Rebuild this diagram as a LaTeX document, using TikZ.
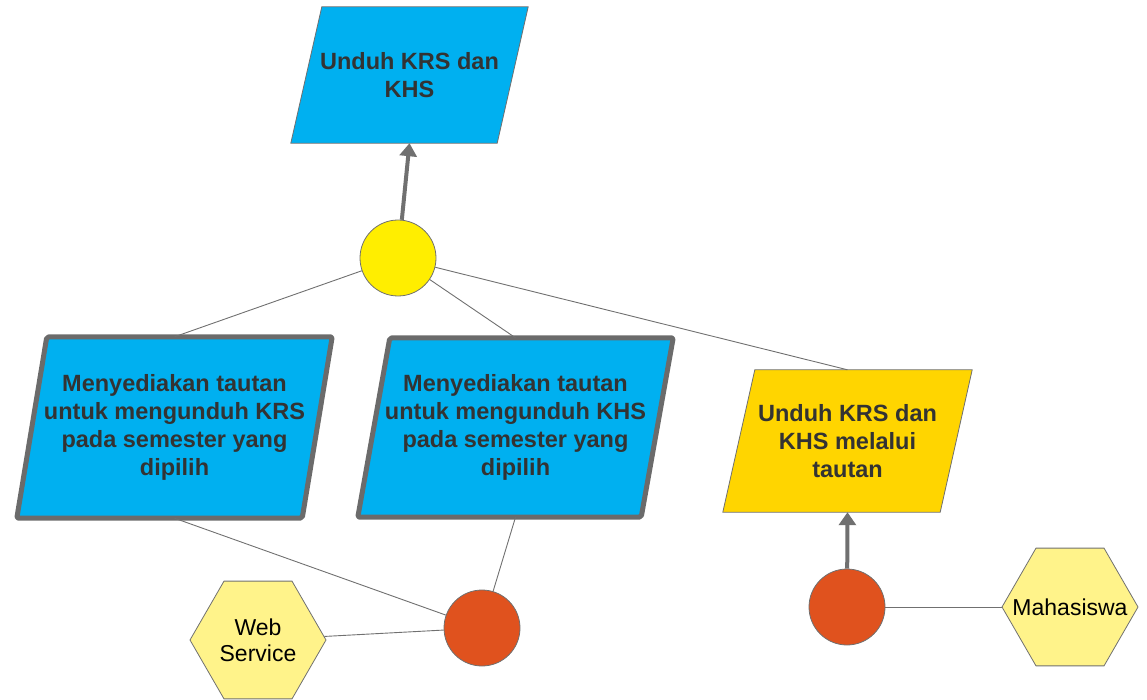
\documentclass[tikz,border=0pt]{standalone}
\usepackage{fontspec}
\setmainfont{Liberation Sans}
\usetikzlibrary{shapes.geometric,arrows.meta,backgrounds,calc}

\definecolor{boxblue}{HTML}{00B0F0}
\definecolor{boxgold}{HTML}{FFD500}
\definecolor{hexyellow}{HTML}{FFF38A}
\definecolor{dotyellow}{HTML}{FFEE00}
\definecolor{dotorange}{HTML}{E0521E}
\definecolor{edgegray}{HTML}{707070}
\definecolor{bordergray}{HTML}{6B6B6B}
\definecolor{textgray}{HTML}{333333}

% parallelogram drawn around a rectangular text node: #1 node, #2 half slant, #3 style
\newcommand{\drawpara}[3]{%
  \path[#3] ($(#1.south west)+(-#2,0)$) -- ($(#1.south east)+(-#2,0)$)
    -- ($(#1.north east)+(#2,0)$) -- ($(#1.north west)+(#2,0)$) -- cycle;}

\tikzset{
  paratext/.style 2 args={rectangle, align=center, inner sep=0pt,
    minimum width=#1, minimum height=#2, text=textgray,
    font=\bfseries\fontsize{23.5}{28}\selectfont},
  thickpara/.style={fill=boxblue, draw=bordergray, line width=5pt, line join=round, rounded corners=2pt},
  thinpara/.style={fill=#1, draw=edgegray, line width=0.8pt},
  dot/.style={circle, fill=#1, draw=edgegray, line width=0.8pt, minimum size=76pt, inner sep=0pt},
  actor/.style={regular polygon, regular polygon sides=6, minimum size=136pt, inner sep=0pt,
    fill=hexyellow, draw=edgegray, line width=0.8pt,
    label={[align=center, text=black, font=\fontsize{23}{26}\selectfont, inner sep=0pt]center:#1}},
  link/.style={draw=edgegray, line width=0.9pt},
  flow/.style={draw=edgegray, line width=4pt, -{Triangle[width=17pt,length=13pt]}},
}

\begin{document}
\begin{tikzpicture}[x=1pt,y=-1pt]
\useasboundingbox (0,0) rectangle (1147,700);

% process boxes
\node[paratext={206pt}{136pt}] (tp) at (409.5,75) {Unduh KRS dan\\KHS};
\node[paratext={285pt}{181pt}] (lp) at (174.5,427.5) {Menyediakan tautan\\untuk mengunduh KRS\\pada semester yang\\dipilih};
\node[paratext={283pt}{179pt}] (mp) at (515.5,427.5) {Menyediakan tautan\\untuk mengunduh KHS\\pada semester yang\\dipilih};
\node[paratext={217pt}{142pt}] (yp) at (847.5,441) {Unduh KRS dan\\KHS melalui\\tautan};

\begin{pgfonlayer}{background}
  \drawpara{tp}{15.5}{thinpara=boxblue}
  \drawpara{lp}{15}{thickpara}
  \drawpara{mp}{16}{thickpara}
  \drawpara{yp}{16}{thinpara=boxgold}
\end{pgfonlayer}

% junctions
\node[dot=dotyellow] (yc) at (398,258) {};
\node[dot=dotorange] (oc1) at (482,628) {};
\node[dot=dotorange] (oc2) at (847,607) {};

% actors
\node[actor={Web\\Service}] (ws) at (258,640) {};
\node[actor={Mahasiswa}] (mh) at (1070,607) {};

% connectors
\path[link] (yc) -- (lp.north);
\path[link] (yc) -- (mp.north);
\path[link] (yc) -- (yp.north);
\path[link] (lp.south) -- (oc1);
\path[link] (mp.south) -- (oc1);
\path[link] (ws) -- (oc1);
\path[link] (oc2) -- (mh);
\path[flow] (yc) -- (tp.south);
\path[flow] (oc2) -- (yp.south);
\end{tikzpicture}
\end{document}
